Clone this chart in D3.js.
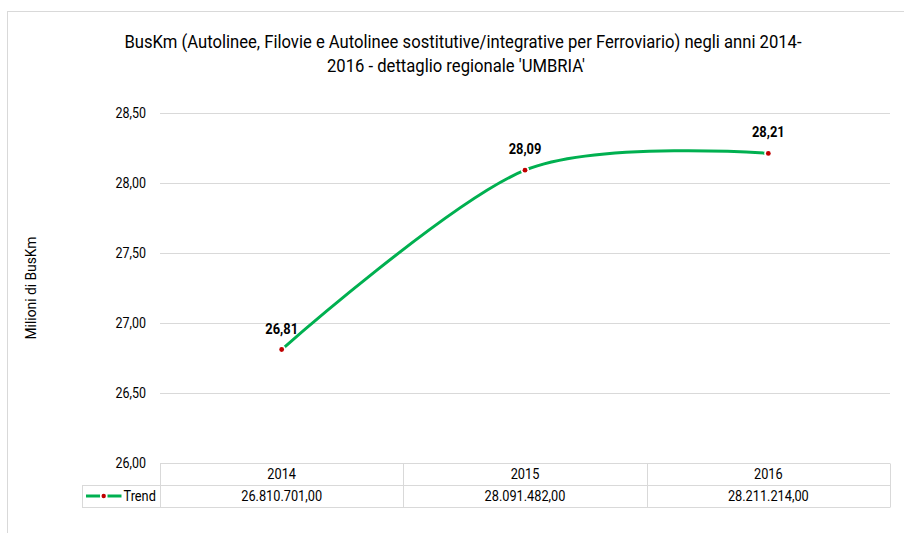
<!DOCTYPE html>
<html>
<head>
<meta charset="utf-8">
<script src="https://cdn.jsdelivr.net/npm/d3@7"></script>
<style>
  html, body { margin: 0; padding: 0; background: #fff; }
  svg { display: block; }
  text { font-family: Roboto, "DejaVu Sans Condensed", sans-serif; fill: #000; }
</style>
</head>
<body>
<svg id="chart" width="904" height="533"></svg>
<script>
const years = ["2014", "2015", "2016"];
const values = [26.810701, 28.091482, 28.211214];
const dataLabels = ["26,81", "28,09", "28,21"];
const tableValues = ["26.810.701,00", "28.091.482,00", "28.211.214,00"];
const yTicks = [26.0, 26.5, 27.0, 27.5, 28.0, 28.5];
const yTickLabels = ["26,00", "26,50", "27,00", "27,50", "28,00", "28,50"];
const seriesName = "Trend";
const titleLines = ["BusKm (Autolinee, Filovie e Autolinee sostitutive/integrative per Ferroviario)  negli anni 2014-", "2016 - dettaglio regionale 'UMBRIA'"];
const yAxisTitle = "Milioni di BusKm";

const svg = d3.select("#chart");
const plot = { left: 160, right: 890, top: 113, bottom: 463 };
const gridColor = "#d9d9d9";
const lineColor = "#00b050";
const markerColor = "#c00000";

function addText(g, x, y, str, size, sx, anchor, weight, rot) {
  return g.append("text")
    .attr("transform", `translate(${x},${y})` + (rot ? ` rotate(${rot})` : "") + ` scale(${sx},1)`)
    .attr("text-anchor", anchor || "start")
    .attr("font-size", size)
    .attr("font-weight", weight || "normal")
    .text(str);
}

// chart border
svg.append("rect").attr("x", 7.5).attr("y", 11.5).attr("width", 1000).attr("height", 1000)
  .attr("fill", "none").attr("stroke", "#d9d9d9").attr("stroke-width", 1);

const x = d3.scaleBand().domain(years).range([plot.left, plot.right]);
const y = d3.scaleLinear().domain([26, 28.5]).range([plot.bottom, plot.top]);

// title
const tg = svg.append("g");
addText(tg, 463, 48, titleLines[0], 18.5, 0.9, "middle");
addText(tg, 456, 72, titleLines[1], 18.5, 0.9, "middle");

// gridlines
svg.append("g").selectAll("line").data(yTicks.slice(1)).join("line")
  .attr("x1", plot.left).attr("x2", plot.right)
  .attr("y1", d => Math.round(y(d)) + 0.5).attr("y2", d => Math.round(y(d)) + 0.5)
  .attr("stroke", gridColor).attr("stroke-width", 1);

// y tick labels
const yg = svg.append("g");
yTicks.forEach((d, i) => addText(yg, 146, y(d) + 5, yTickLabels[i], 14.5, 0.86, "end"));

// y axis title
addText(svg.append("g"), 36, (plot.top + plot.bottom) / 2, yAxisTitle, 15, 0.92, "middle", "normal", -90);

// data table
const rowTop = 463.5, rowMid = 485.5, rowBot = 507.5;
const tbl = svg.append("g").attr("stroke", gridColor).attr("stroke-width", 1).attr("fill", "none");
tbl.append("line").attr("x1", plot.left).attr("x2", plot.right).attr("y1", rowTop).attr("y2", rowTop);
tbl.append("line").attr("x1", 82).attr("x2", plot.right).attr("y1", rowMid).attr("y2", rowMid);
tbl.append("line").attr("x1", 82).attr("x2", plot.right).attr("y1", rowBot).attr("y2", rowBot);
tbl.append("line").attr("x1", 82.5).attr("x2", 82.5).attr("y1", rowMid).attr("y2", rowBot);
const dividers = years.map(d => x(d)).concat([plot.right]);
tbl.selectAll("line.div").data(dividers).join("line").attr("class", "div")
  .attr("x1", d => Math.round(d) + 0.5).attr("x2", d => Math.round(d) + 0.5)
  .attr("y1", rowTop).attr("y2", rowBot);

const tt = svg.append("g");
years.forEach((d, i) => {
  const cx = x(d) + x.bandwidth() / 2;
  addText(tt, cx, 479, d, 14.5, 0.88, "middle");
  addText(tt, cx, 501, tableValues[i], 14.5, 0.88, "middle");
});

// legend key
const lg = svg.append("g");
lg.append("line").attr("x1", 86).attr("x2", 100).attr("y1", 496).attr("y2", 496)
  .attr("stroke", lineColor).attr("stroke-width", 3);
lg.append("line").attr("x1", 107.5).attr("x2", 121.5).attr("y1", 496).attr("y2", 496)
  .attr("stroke", lineColor).attr("stroke-width", 3);
lg.append("circle").attr("cx", 103.7).attr("cy", 496).attr("r", 2.2).attr("fill", markerColor);
addText(lg, 123.5, 501, seriesName, 14.5, 0.88, "start");

// series line
const pts = values.map((v, i) => [x(years[i]) + x.bandwidth() / 2, y(v)]);
const line = d3.line().curve(d3.curveCardinal.tension(0.1));
svg.append("path").attr("d", line(pts))
  .attr("fill", "none").attr("stroke", lineColor).attr("stroke-width", 3).attr("stroke-linecap", "round");

// markers
svg.append("g").selectAll("circle").data(pts).join("circle")
  .attr("cx", d => d[0]).attr("cy", d => d[1]).attr("r", 2.4)
  .attr("fill", markerColor).attr("stroke", "#fff").attr("stroke-width", 3.5)
  .attr("paint-order", "stroke");

// data labels
const dl = svg.append("g");
pts.forEach((p, i) => addText(dl, p[0], p[1] - 16, dataLabels[i], 15, 0.86, "middle", "bold"));
</script>
</body>
</html>
